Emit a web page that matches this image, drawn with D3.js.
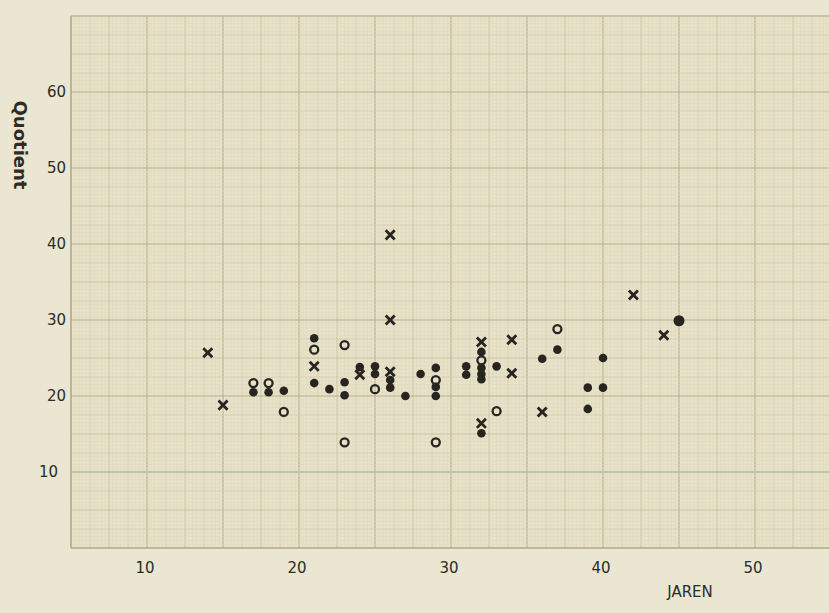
<!DOCTYPE html>
<html>
<head>
<meta charset="utf-8">
<script src="https://cdn.jsdelivr.net/npm/d3@7"></script>
<style>
  body { margin: 0; background: #ebe6d2; }
  svg { display: block; }
  text { font-family: "DejaVu Sans", sans-serif; fill: #2e2c26; }
</style>
</head>
<body>
<svg width="829" height="613"></svg>
<script>
var svg = d3.select("svg"),
    width = +svg.attr("width"),
    height = +svg.attr("height");

// age (jaren), quotient, kind: d = dot, o = ring, x = cross
var ages      = [14, 15, 17, 17, 18, 18, 19, 19, 21, 21, 21, 21, 23, 22, 23, 23, 23, 24, 24, 25,
                 25, 25, 26, 26, 26, 26, 26, 27, 28, 29, 29, 29, 29, 29, 31, 31, 32, 32, 32, 32,
                 32, 32, 33, 34, 34, 33, 32, 32, 36, 36, 37, 37, 40, 39, 40, 39, 42, 44, 45];
var quotients = [25.7, 18.8, 21.7, 20.5, 21.7, 20.5, 20.7, 17.9, 27.6, 26.1, 23.9, 21.7, 26.7, 20.9, 21.8, 20.1, 13.9, 23.8, 22.8, 23.9,
                 22.9, 20.9, 41.2, 30.0, 23.2, 22.1, 21.1, 20.0, 22.9, 23.7, 22.1, 21.2, 20.0, 13.9, 23.9, 22.8, 27.1, 25.8, 24.7, 23.7,
                 22.9, 22.2, 23.9, 27.4, 23.0, 18.0, 16.4, 15.1, 24.9, 17.9, 28.8, 26.1, 25.0, 21.1, 21.1, 18.3, 33.3, 28.0, 29.9];
var kinds     = ["x", "x", "o", "d", "o", "d", "d", "o", "d", "o", "x", "d", "o", "d", "d", "d", "o", "d", "x", "d",
                 "d", "o", "x", "x", "x", "d", "d", "d", "d", "d", "o", "d", "d", "o", "d", "d", "x", "d", "o", "d",
                 "d", "d", "d", "x", "x", "o", "x", "d", "d", "x", "o", "d", "d", "d", "d", "d", "x", "x", "d"];

var xTicks = [10, 20, 30, 40, 50];
var yTicks = [10, 20, 30, 40, 50, 60];

var points = ages.map(function(a, i) {
    return { age: a, q: quotients[i], kind: kinds[i] };
});

var plotLeft = 71, plotTop = 16, plotBottom = 548;

var x = d3.scaleLinear().domain([5, 55]).range([plotLeft, plotLeft + 760]);
var y = d3.scaleLinear().domain([0, 70]).range([plotBottom, plotTop]);

// graph paper
var grid = svg.append("g").attr("class", "grid");

grid.append("rect")
    .attr("x", plotLeft).attr("y", plotTop)
    .attr("width", width - plotLeft).attr("height", plotBottom - plotTop)
    .attr("fill", "#e8e2c9");

function lineStyle(v, step) {
    var n = Math.round(v / step);
    if (n % 20 === 0) return ["#b8ae8e", 1.1];
    if (n % 10 === 0) return ["#c9c0a2", 0.9];
    if (n % 5 === 0) return ["#d3cbae", 0.8];
    return ["#dfd8bf", 0.6];
}

d3.range(5, 55.01, 0.25).forEach(function(v) {
    var s = lineStyle(v - 5, 0.25);
    grid.append("line")
        .attr("x1", x(v)).attr("x2", x(v))
        .attr("y1", plotTop).attr("y2", plotBottom)
        .attr("stroke", s[0]).attr("stroke-width", s[1]);
});

d3.range(0, 70.01, 0.5).forEach(function(v) {
    var s = lineStyle(v, 0.5);
    grid.append("line")
        .attr("x1", plotLeft).attr("x2", width)
        .attr("y1", y(v)).attr("y2", y(v))
        .attr("stroke", s[0]).attr("stroke-width", s[1]);
});

// faint green line on 10
grid.append("line")
    .attr("x1", plotLeft).attr("x2", width)
    .attr("y1", y(10)).attr("y2", y(10))
    .attr("stroke", "#b7c4a4").attr("stroke-width", 1.4);

// border of the paper area
grid.append("line")
    .attr("x1", plotLeft).attr("x2", plotLeft).attr("y1", plotTop).attr("y2", plotBottom)
    .attr("stroke", "#b0a686").attr("stroke-width", 1.2);
grid.append("line")
    .attr("x1", plotLeft).attr("x2", width).attr("y1", plotBottom).attr("y2", plotBottom)
    .attr("stroke", "#b0a686").attr("stroke-width", 1.2);
grid.append("line")
    .attr("x1", plotLeft).attr("x2", width).attr("y1", plotTop).attr("y2", plotTop)
    .attr("stroke", "#c4bb9c").attr("stroke-width", 1);

// tick labels
svg.append("g").selectAll("text")
    .data(xTicks)
    .enter().append("text")
    .attr("x", function(d) { return x(d) - 2; })
    .attr("y", 573)
    .attr("text-anchor", "middle")
    .attr("font-size", 15)
    .text(function(d) { return d; });

svg.append("g").selectAll("text")
    .data(yTicks)
    .enter().append("text")
    .attr("x", function(d) { return d === 10 ? 58 : 66; })
    .attr("y", function(d) { return y(d); })
    .attr("dy", "0.35em")
    .attr("text-anchor", "end")
    .attr("font-size", 15)
    .text(function(d) { return d; });

svg.append("text")
    .attr("x", 690).attr("y", 597)
    .attr("text-anchor", "middle")
    .attr("font-size", 15)
    .text("JAREN");

svg.append("text")
    .attr("transform", "translate(14,145) rotate(90)")
    .attr("text-anchor", "middle")
    .attr("font-size", 18)
    .attr("font-weight", "bold")
    .text("Quotient");

// marks
var marks = svg.append("g").attr("class", "marks");
var ink = "#26251f";

marks.selectAll(".dot")
    .data(points.filter(function(d) { return d.kind === "d"; }))
    .enter().append("circle")
    .attr("class", "dot")
    .attr("cx", function(d) { return x(d.age); })
    .attr("cy", function(d) { return y(d.q); })
    .attr("r", function(d) { return d.age === 45 ? 5.5 : 4.3; })
    .attr("fill", ink);

marks.selectAll(".ring")
    .data(points.filter(function(d) { return d.kind === "o"; }))
    .enter().append("circle")
    .attr("class", "ring")
    .attr("cx", function(d) { return x(d.age); })
    .attr("cy", function(d) { return y(d.q); })
    .attr("r", 4)
    .attr("fill", "none")
    .attr("stroke", ink)
    .attr("stroke-width", 2.3);

var cross = d3.symbol().type(d3.symbolX).size(55);

marks.selectAll(".cross")
    .data(points.filter(function(d) { return d.kind === "x"; }))
    .enter().append("path")
    .attr("class", "cross")
    .attr("transform", function(d) { return "translate(" + x(d.age) + "," + y(d.q) + ")"; })
    .attr("d", cross)
    .attr("fill", "none")
    .attr("stroke", ink)
    .attr("stroke-width", 2.8);
</script>
</body>
</html>
